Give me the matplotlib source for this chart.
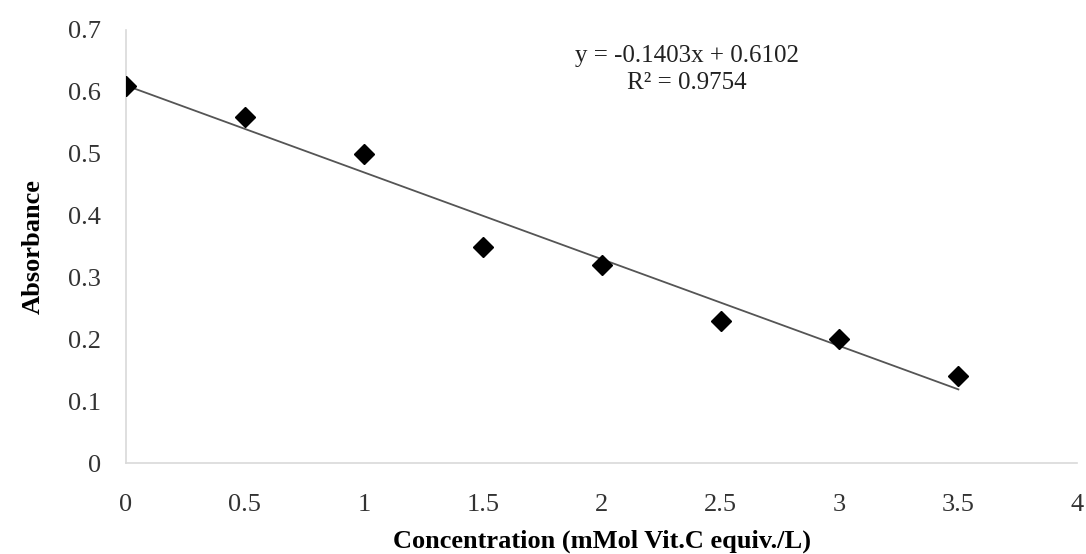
import numpy as np
import matplotlib.pyplot as plt

# calibration data
conc = [0, 0.5, 1, 1.5, 2, 2.5, 3, 3.5]
absorbance = [0.61, 0.56, 0.50, 0.35, 0.32, 0.23, 0.20, 0.14]

# linear trendline as printed on the chart
slope = -0.1403
intercept = 0.6102
r2 = 0.9754

plt.rcParams['font.family'] = ['Liberation Serif', 'DejaVu Serif']

fig = plt.figure(figsize=(10.86, 5.54), dpi=100)
ax = fig.add_axes([0.116, 0.164, 0.876, 0.782])

xs = np.array([min(conc), max(conc)])
ax.plot(xs, slope * xs + intercept, color='#555555', lw=1.3, zorder=2)
ax.plot(conc, absorbance, 'D', color='black', markersize=10, zorder=3)

ax.set_xlim(0, 4)
ax.set_ylim(0, 0.7)
ax.set_xticks(np.arange(0, 4.01, 0.5))
ax.set_yticks(np.arange(0, 0.71, 0.1))
ax.set_xticklabels(['0', '0.5', '1', '1.5', '2', '2.5', '3', '3.5', '4'])
ax.set_yticklabels(['0', '0.1', '0.2', '0.3', '0.4', '0.5', '0.6', '0.7'])
ax.tick_params(length=0, labelsize=19, colors='#333333')
ax.tick_params(axis='y', pad=18)
ax.tick_params(axis='x', pad=22)

for s in ['top', 'right']:
	ax.spines[s].set_visible(False)
for s in ['left', 'bottom']:
	ax.spines[s].set_color('#d9d9d9')
	ax.spines[s].set_linewidth(1.2)

ax.set_xlabel('Concentration (mMol Vit.C equiv./L)', fontsize=19, fontweight='bold', labelpad=10)
ax.set_ylabel('Absorbance', fontsize=19, fontweight='bold', labelpad=17)

ax.text(2.36, 0.636, 'y = %.4fx + %.4f\nR² = %.4f' % (slope, intercept, r2),
		ha='center', va='center', fontsize=18, linespacing=1.3, color='#222222')

fig.savefig('out.png', dpi=100)
